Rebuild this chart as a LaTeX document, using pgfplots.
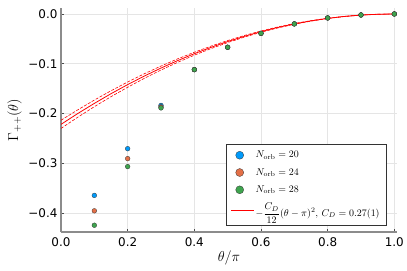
\documentclass[border=0pt]{standalone}
\usepackage{amsmath}
\usepackage{pgfplots}
\pgfplotsset{compat=1.18}
\usepackage{fontspec}
\newfontfamily\tickfont{DejaVu Sans}
\definecolor{pblue}{RGB}{0,154,250}
\definecolor{porange}{RGB}{227,111,71}
\definecolor{pgreen}{RGB}{62,164,78}
\begin{document}
\begin{tikzpicture}
\begin{axis}[
  name=ax,
  scale only axis,
  width=336bp, height=224bp,
  xmin=0, xmax=1.008,
  ymin=-0.4386, ymax=0.012,
  axis x line*=bottom, axis y line*=left,
  axis line style={draw=black!45, line width=1.1bp},
  xtick={0,0.2,0.4,0.6,0.8,1.0},
  xticklabels={0.0,0.2,0.4,0.6,0.8,1.0},
  ytick={-0.4,-0.3,-0.2,-0.1,0},
  yticklabels={−0.4,−0.3,−0.2,−0.1,0.0},
  tick style={draw=black!70, line width=0.5bp},
  tick align=inside, major tick length=3bp,
  ticklabel style={font=\tickfont\fontsize{12}{14}\selectfont},
  xticklabel style={yshift=-2bp},
  grid=major,
  grid style={draw=black!10, line width=0.4bp},
  xlabel={$\theta/\pi$},
  ylabel={$\Gamma_{++}(\theta)$},
  label style={font=\Large},
  xlabel style={yshift=3bp},
  legend style={at={(axis description cs:0.97,0.03)}, anchor=south east,
    draw=black!80, line width=0.6bp, fill=white,
    font=\normalsize, row sep=5bp, inner sep=5bp,
    cells={anchor=west}},
  legend cell align=left,
]
% fit bands (C_D = 0.26, 0.28)
\addplot[draw=red, line width=0.6bp, dash pattern=on 3bp off 1.5bp, forget plot] coordinates {
(0,-0.2138)(0.05,-0.1930)(0.1,-0.1732)(0.15,-0.1545)(0.2,-0.1369)(0.25,-0.1203)(0.3,-0.1048)(0.35,-0.0903)(0.4,-0.0770)(0.45,-0.0647)(0.5,-0.0535)(0.55,-0.0433)(0.6,-0.0342)(0.65,-0.0262)(0.7,-0.0192)(0.75,-0.0134)(0.8,-0.0086)(0.85,-0.0048)(0.9,-0.0021)(0.95,-0.0005)(1,0)};
\addplot[draw=red, line width=0.6bp, dash pattern=on 3bp off 1.5bp, forget plot] coordinates {
(0,-0.2303)(0.05,-0.2078)(0.1,-0.1865)(0.15,-0.1664)(0.2,-0.1474)(0.25,-0.1295)(0.3,-0.1128)(0.35,-0.0973)(0.4,-0.0829)(0.45,-0.0697)(0.5,-0.0576)(0.55,-0.0466)(0.6,-0.0368)(0.65,-0.0282)(0.7,-0.0207)(0.75,-0.0144)(0.8,-0.0092)(0.85,-0.0052)(0.9,-0.0023)(0.95,-0.0006)(1,0)};
% data
\addplot[only marks, mark=*, mark size=2.4bp, mark options={fill=pblue, draw=black!80, line width=0.3bp},
  legend image post style={mark size=4bp}] coordinates {
(0.1,-0.365)(0.2,-0.271)(0.3,-0.184)(0.4,-0.112)(0.5,-0.067)(0.6,-0.039)(0.7,-0.020)(0.8,-0.008)(0.9,-0.002)(1.0,0)};
\addlegendentry{$N_{\mathrm{orb}}=20$}
\addplot[only marks, mark=*, mark size=2.4bp, mark options={fill=porange, draw=black!80, line width=0.3bp},
  legend image post style={mark size=4bp}] coordinates {
(0.1,-0.396)(0.2,-0.291)(0.3,-0.187)(0.4,-0.112)(0.5,-0.067)(0.6,-0.039)(0.7,-0.020)(0.8,-0.008)(0.9,-0.002)(1.0,0)};
\addlegendentry{$N_{\mathrm{orb}}=24$}
\addplot[only marks, mark=*, mark size=2.4bp, mark options={fill=pgreen, draw=black!80, line width=0.3bp},
  legend image post style={mark size=4bp}] coordinates {
(0.1,-0.425)(0.2,-0.307)(0.3,-0.189)(0.4,-0.112)(0.5,-0.067)(0.6,-0.039)(0.7,-0.020)(0.8,-0.008)(0.9,-0.002)(1.0,0)};
\addlegendentry{$N_{\mathrm{orb}}=28$}
% central fit C_D = 0.27
\addplot[draw=red, line width=0.8bp,
  legend image code/.code={\fill[fill=red] (0bp,-0.3bp) rectangle (22bp,0.3bp);}] coordinates {
(0,-0.2221)(0.05,-0.2004)(0.1,-0.1799)(0.15,-0.1604)(0.2,-0.1421)(0.25,-0.1249)(0.3,-0.1088)(0.35,-0.0938)(0.4,-0.0799)(0.45,-0.0672)(0.5,-0.0555)(0.55,-0.0450)(0.6,-0.0355)(0.65,-0.0272)(0.7,-0.0200)(0.75,-0.0139)(0.8,-0.0089)(0.85,-0.0050)(0.9,-0.0022)(0.95,-0.0006)(1,0)};
\addlegendentry{$-\dfrac{C_D}{12}(\theta-\pi)^2,\, C_D=0.27(1)$}
\end{axis}
\pgfresetboundingbox
\path[use as bounding box] ([xshift=-61bp,yshift=-39bp]ax.south west) rectangle ([xshift=10bp,yshift=8bp]ax.north east);
\end{tikzpicture}
\end{document}
